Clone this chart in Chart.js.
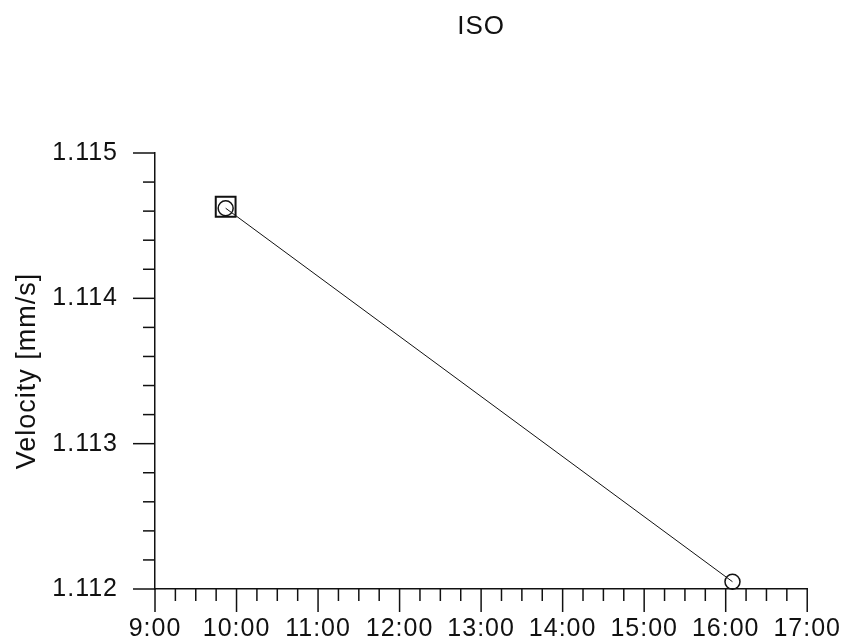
<!DOCTYPE html>
<html>
<head>
<meta charset="utf-8">
<title>ISO</title>
<script src="https://cdn.jsdelivr.net/npm/chart.js@4.4.1/dist/chart.umd.min.js"></script>
<style>
  html, body { margin: 0; padding: 0; background: #fff; }
  #wrap { width: 843px; height: 644px; }
</style>
</head>
<body>
<div id="wrap"><canvas id="chart" width="843" height="644"></canvas></div>
<script>
// Datos
const times = ['9:52', '16:05'];
const velocity = [1.11462, 1.11205];
const refTimes = ['9:52'];
const refVelocity = [1.11463];
const xTickLabels = ['9:00', '10:00', '11:00', '12:00', '13:00', '14:00', '15:00', '16:00', '17:00'];
const yTickLabels = ['1.112', '1.113', '1.114', '1.115'];

// Convertir "H:MM" a horas decimales
function toHours(t) {
    const [h, m] = t.split(':').map(Number);
    return h + m / 60;
}

const fontFamily = '"Liberation Sans", Arial, Helvetica, sans-serif';
const xMin = toHours(xTickLabels[0]);
const xMax = toHours(xTickLabels[xTickLabels.length - 1]);
const yMin = parseFloat(yTickLabels[0]);
const yMax = parseFloat(yTickLabels[yTickLabels.length - 1]);

// Texto algo más espaciado, como en el original
const spacing = {
    id: 'spacing',
    beforeUpdate(chart) { chart.ctx.letterSpacing = '1px'; },
    beforeDraw(chart) { chart.ctx.letterSpacing = '1px'; }
};

// Marcas de eje hacia afuera: largas para las principales, cortas para las menores
const tickMarks = {
    id: 'tickMarks',
    afterDraw(chart) {
        const ctx = chart.ctx;
        const xs = chart.scales.x;
        const ys = chart.scales.y;
        ctx.save();
        ctx.strokeStyle = '#111';
        ctx.lineWidth = 1.5;
        xs.ticks.forEach(t => {
            const px = xs.getPixelForValue(t.value);
            const len = t.label ? 23 : 12;
            ctx.beginPath();
            ctx.moveTo(px, xs.top);
            ctx.lineTo(px, xs.top + len);
            ctx.stroke();
        });
        ys.ticks.forEach(t => {
            const py = ys.getPixelForValue(t.value);
            const len = t.label ? 22 : 12;
            ctx.beginPath();
            ctx.moveTo(ys.right, py);
            ctx.lineTo(ys.right - len, py);
            ctx.stroke();
        });
        ctx.restore();
    }
};

new Chart(document.getElementById('chart'), {
    type: 'scatter',
    data: {
        datasets: [
            {
                label: 'ISO',
                data: times.map((t, i) => ({ x: toHours(t), y: velocity[i] })),
                showLine: true,
                borderColor: '#111',
                borderWidth: 1,
                pointStyle: 'circle',
                pointRadius: 7.5,
                pointBorderWidth: 1.5,
                pointBorderColor: '#111',
                pointBackgroundColor: 'rgba(0,0,0,0)',
                clip: false
            },
            {
                label: 'ref',
                data: refTimes.map((t, i) => ({ x: toHours(t), y: refVelocity[i] })),
                showLine: false,
                pointStyle: 'rect',
                pointRadius: 14,
                pointBorderWidth: 2,
                pointBorderColor: '#111',
                pointBackgroundColor: 'rgba(0,0,0,0)',
                clip: false
            }
        ]
    },
    options: {
        responsive: false,
        animation: false,
        layout: { padding: { left: 0, right: 35, top: 0, bottom: 0 } },
        plugins: {
            legend: { display: false },
            tooltip: { enabled: false },
            title: {
                display: true,
                text: 'ISO',
                fullSize: false,
                color: '#111',
                font: { family: fontFamily, size: 26, weight: 'normal' },
                padding: { top: 11, bottom: 110.8 }
            }
        },
        scales: {
            x: {
                type: 'linear',
                min: xMin,
                max: xMax,
                afterFit: s => { s.height = 55; },
                border: { display: true, color: '#111', width: 1.5 },
                grid: { drawOnChartArea: false, color: 'rgba(0,0,0,0)', tickLength: 23 },
                ticks: {
                    stepSize: 0.25,
                    autoSkip: false,
                    maxRotation: 0,
                    minRotation: 0,
                    padding: 2,
                    color: '#111',
                    font: { family: fontFamily, size: 25 },
                    callback: v => {
                        const i = xTickLabels.findIndex(l => Math.abs(toHours(l) - v) < 1e-6);
                        return i >= 0 ? xTickLabels[i] : '';
                    }
                }
            },
            y: {
                min: yMin,
                max: yMax,
                afterFit: s => { s.width = 155; },
                border: { display: true, color: '#111', width: 1.5 },
                grid: { drawOnChartArea: false, color: 'rgba(0,0,0,0)', tickLength: 22 },
                title: {
                    display: true,
                    text: 'Velocity [mm/s]',
                    color: '#111',
                    font: { family: fontFamily, size: 27 },
                    padding: { top: 11, bottom: 0 }
                },
                ticks: {
                    stepSize: 0.0002,
                    autoSkip: false,
                    padding: 15,
                    color: '#111',
                    font: { family: fontFamily, size: 25 },
                    callback: v => {
                        const i = yTickLabels.findIndex(l => Math.abs(parseFloat(l) - v) < 1e-7);
                        return i >= 0 ? yTickLabels[i] : '';
                    }
                }
            }
        }
    },
    plugins: [spacing, tickMarks]
});
</script>
</body>
</html>
